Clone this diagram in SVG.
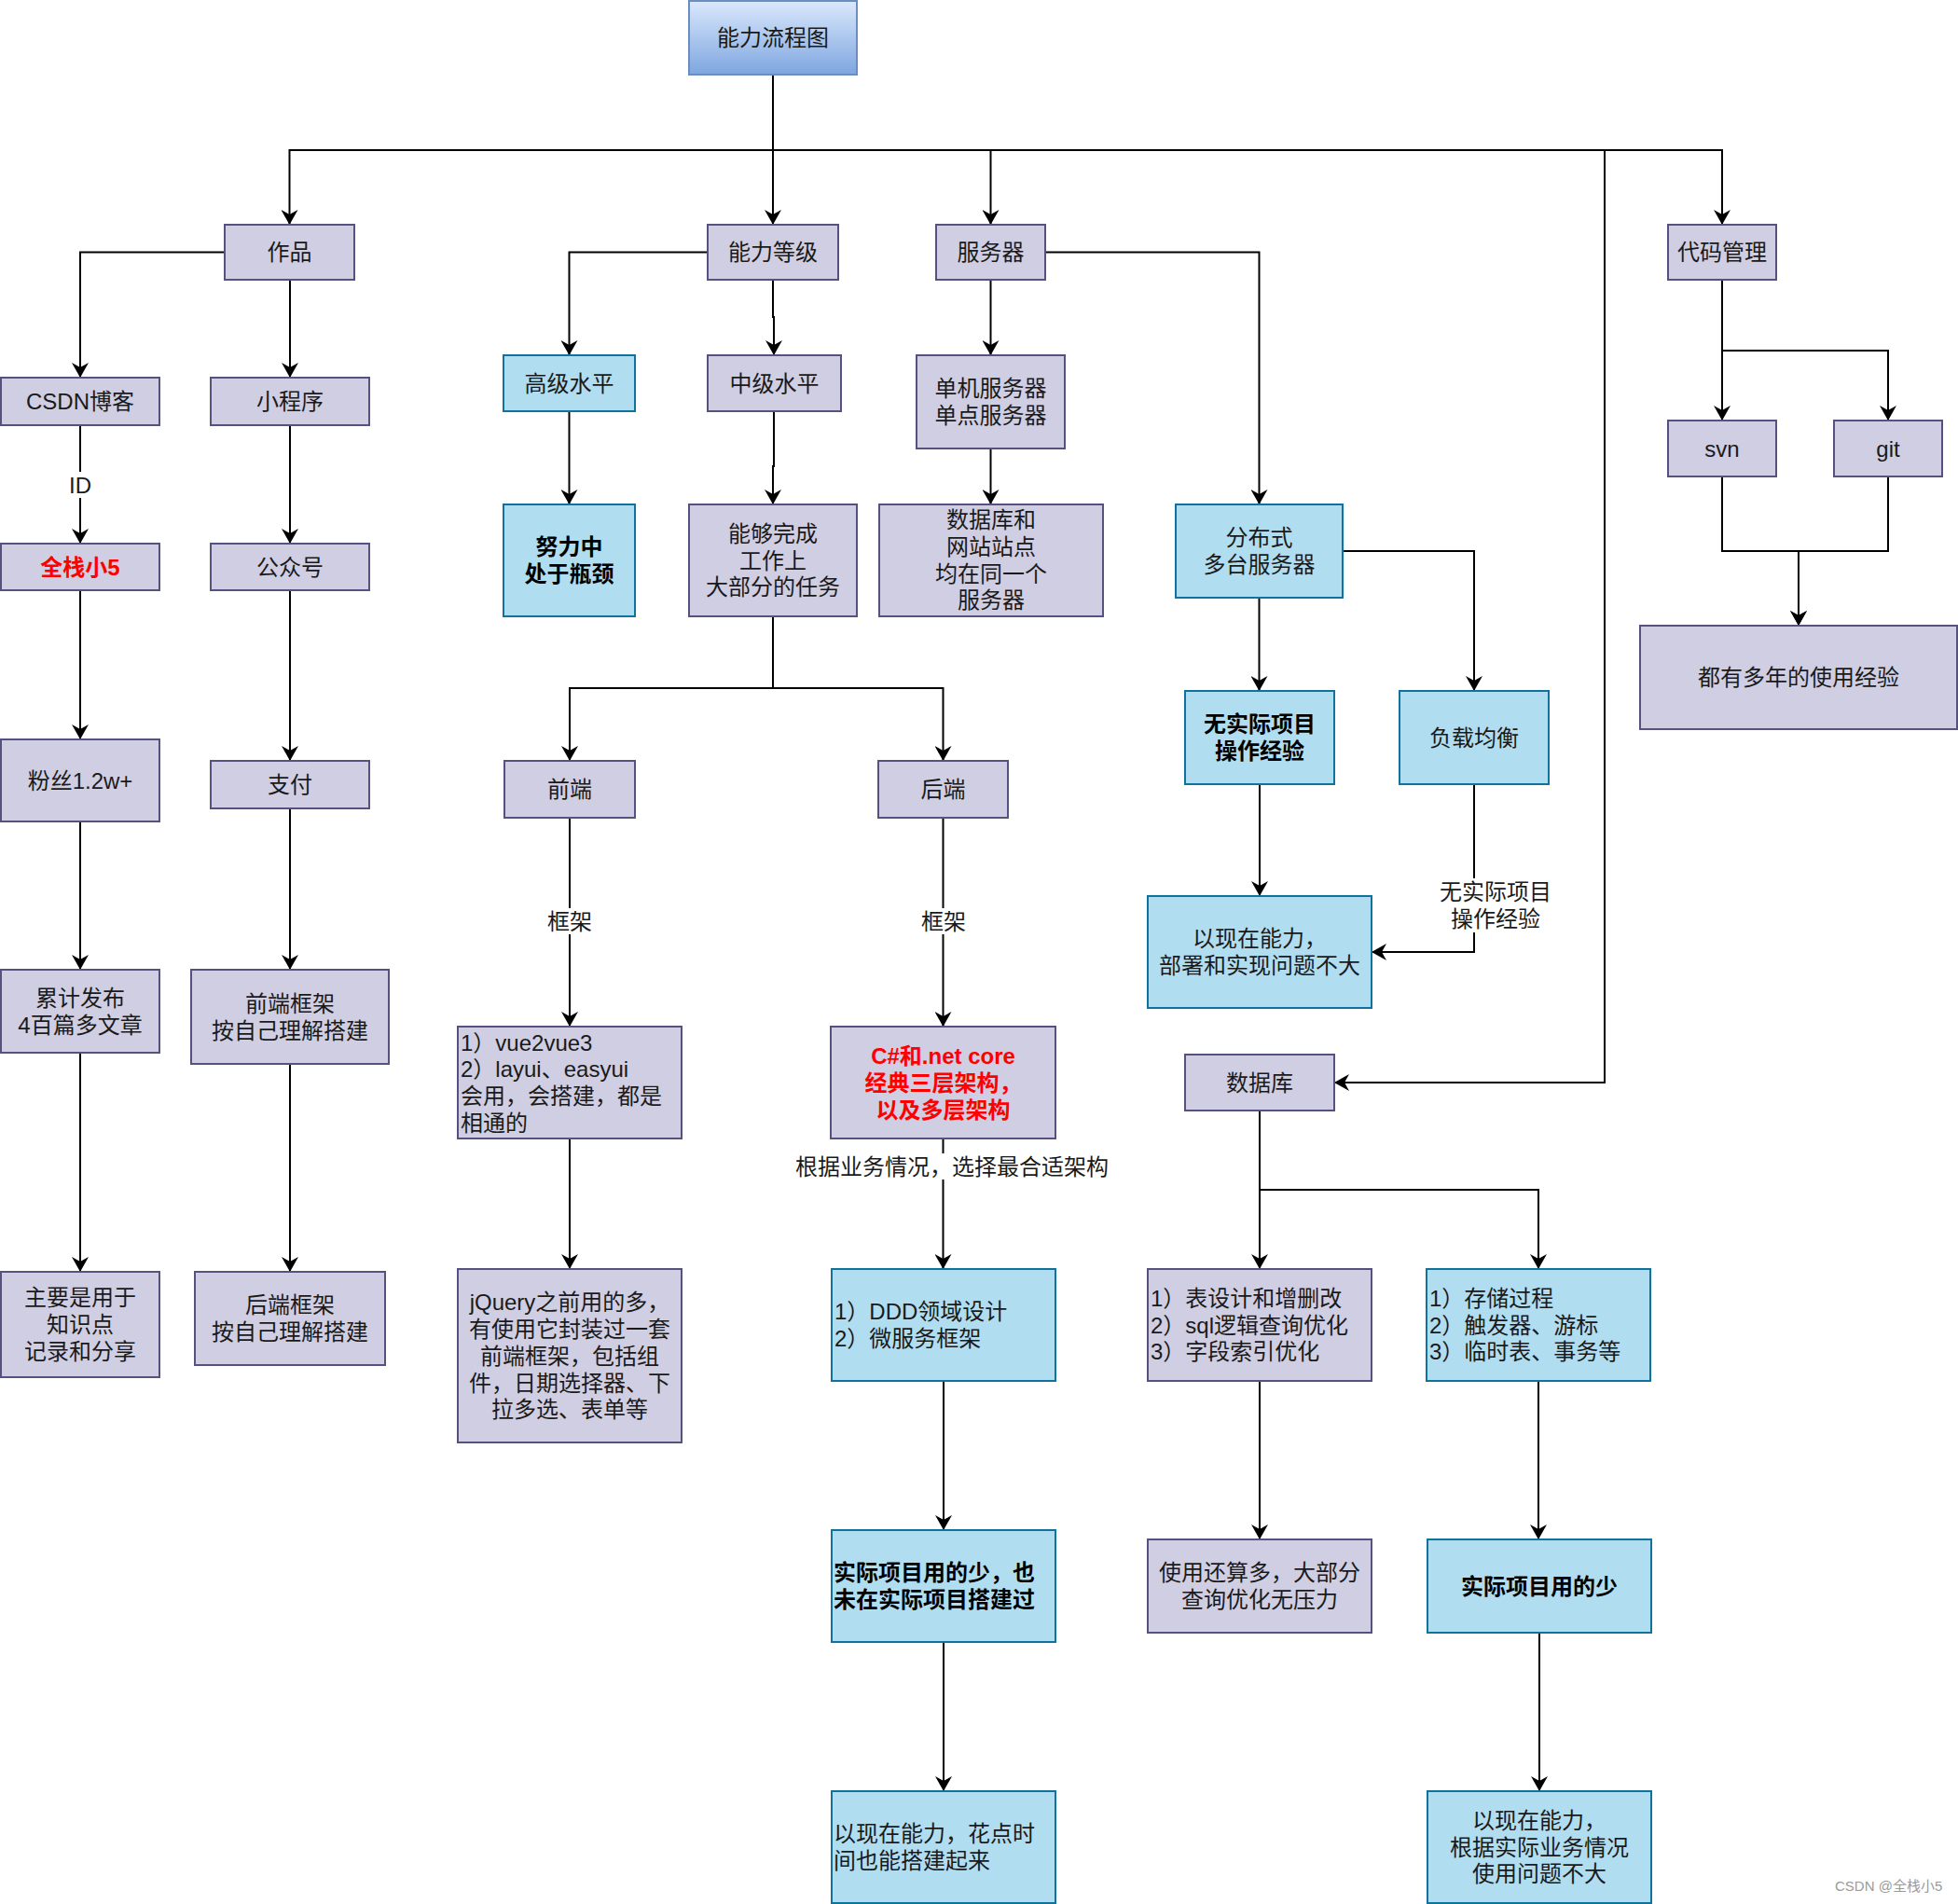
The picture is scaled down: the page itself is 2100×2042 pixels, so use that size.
<svg xmlns="http://www.w3.org/2000/svg" width="2100" height="2042" viewBox="0 0 2100 2042">
<defs>
<linearGradient id="rootg" x1="0" y1="0" x2="0" y2="1">
<stop offset="0" stop-color="#dae8fc"/>
<stop offset="1" stop-color="#7ea6e0"/>
</linearGradient>
<marker id="arr" viewBox="0 0 16 18" refX="16" refY="9" markerWidth="16" markerHeight="18" markerUnits="userSpaceOnUse" orient="auto">
<path d="M0,0 L16,9 L0,18 L5,9 Z" fill="#000"/>
</marker>
<style>
.p{fill:#d0cee2;stroke:#56517e;stroke-width:2}
.b{fill:#b1ddf0;stroke:#10739e;stroke-width:2}
.r{fill:url(#rootg);stroke:#6c8ebf;stroke-width:2}
text{font-family:"Liberation Sans","Noto Sans CJK SC",sans-serif;font-size:24px;fill:#1a1a1a}
.c{text-anchor:middle}
.bd{font-weight:bold;fill:#000}
.red{fill:#ff0000;font-weight:bold}
.e{fill:none;stroke:#000;stroke-width:2;marker-end:url(#arr)}
.lb{fill:#fff}
.wm{font-size:15px;fill:#9a9a9a}
</style>
</defs>
<rect width="2100" height="2042" fill="#fff"/>

<g id="connectors">
<path class="e" d="M829,80 V241"/>
<path class="e" d="M829,80 V161 H310.5 V241"/>
<path class="e" d="M829,80 V161 H1062.5 V241"/>
<path class="e" d="M829,80 V161 H1847 V241"/>
<path class="e" d="M829,80 V161 H1721 V1161 H1431"/>
<path class="e" d="M241,270.5 H86 V405"/>
<path class="e" d="M311,300 V405"/>
<path class="e" d="M86,456 V583"/>
<path class="e" d="M311,456 V583"/>
<path class="e" d="M86,633 V793"/>
<path class="e" d="M311,633 V816"/>
<path class="e" d="M86,881 V1040"/>
<path class="e" d="M311,867 V1040"/>
<path class="e" d="M86,1129 V1364"/>
<path class="e" d="M311,1141 V1364"/>
<path class="e" d="M759,270.5 H610.5 V381"/>
<path class="e" d="M829,300 V340 H830 V381"/>
<path class="e" d="M610.5,441 V541"/>
<path class="e" d="M830,441 V500 H829 V541"/>
<path class="e" d="M829,661 V738 H611 V816"/>
<path class="e" d="M829,661 V738 H1011.5 V816"/>
<path class="e" d="M611,877 V1101"/>
<path class="e" d="M1011.5,877 V1101"/>
<path class="e" d="M611,1221 V1361"/>
<path class="e" d="M1011.5,1221 V1361"/>
<path class="e" d="M1012,1481 V1641"/>
<path class="e" d="M1012,1761 V1921"/>
<path class="e" d="M1062.5,300 V381"/>
<path class="e" d="M1062.5,481 V541"/>
<path class="e" d="M1121,270.5 H1350.5 V541"/>
<path class="e" d="M1350.5,641 V741"/>
<path class="e" d="M1440,591 H1581 V741"/>
<path class="e" d="M1351,841 V961"/>
<path class="e" d="M1581,841 V1021 H1471"/>
<path class="e" d="M1351,1191 V1361"/>
<path class="e" d="M1351,1191 V1276 H1650 V1361"/>
<path class="e" d="M1351,1481 V1651"/>
<path class="e" d="M1650,1481 V1651"/>
<path class="e" d="M1651,1751 V1921"/>
<path class="e" d="M1847,300 V451"/>
<path class="e" d="M1847,300 V376 H2025 V451"/>
<path class="e" d="M1847,511 V591 H1929 V671"/>
<path class="e" d="M2025,511 V591 H1929 V671"/>
<g id="edge-labels">
<rect class="lb" x="73" y="506" width="26" height="28"/>
<text class="c" x="86" y="528.5">ID</text>
<rect class="lb" x="587" y="974" width="48" height="28"/>
<text class="c" x="611" y="996.5">框架</text>
<rect class="lb" x="988" y="974" width="48" height="28"/>
<text class="c" x="1012" y="996.5">框架</text>
<rect class="lb" x="853" y="1237" width="336" height="28"/>
<text class="c" x="1021" y="1259.5">根据业务情况，选择最合适架构</text>
<rect class="lb" x="1544" y="942" width="120" height="58"/>
<text class="c" x="1604" y="965">无实际项目</text>
<text class="c" x="1604" y="994">操作经验</text>
</g>
</g>

<g id="n-root"><rect class="r" x="739" y="1" width="180" height="79"/><text class="c" x="829" y="49">能力流程图</text></g>
<g id="n-zuopin"><rect class="p" x="241" y="241" width="139" height="59"/><text class="c" x="310.5" y="279">作品</text></g>
<g id="n-nengli"><rect class="p" x="759" y="241" width="140" height="59"/><text class="c" x="829" y="279">能力等级</text></g>
<g id="n-fuwuqi"><rect class="p" x="1004" y="241" width="117" height="59"/><text class="c" x="1062.5" y="279">服务器</text></g>
<g id="n-daima"><rect class="p" x="1789" y="241" width="116" height="59"/><text class="c" x="1847" y="279">代码管理</text></g>

<g id="n-csdn"><rect class="p" x="1" y="405" width="170" height="51"/><text class="c" x="86" y="439">CSDN博客</text></g>
<g id="n-xcx"><rect class="p" x="226" y="405" width="170" height="51"/><text class="c" x="311" y="439">小程序</text></g>
<g id="n-gaoji"><rect class="b" x="540" y="381" width="141" height="60"/><text class="c" x="610.5" y="419.5">高级水平</text></g>
<g id="n-zhongji"><rect class="p" x="759" y="381" width="143" height="60"/><text class="c" x="830.5" y="419.5">中级水平</text></g>
<g id="n-danji"><rect class="p" x="983" y="381" width="159" height="100"/><text class="c" x="1062.5" y="425">单机服务器</text><text class="c" x="1062.5" y="454">单点服务器</text></g>
<g id="n-svn"><rect class="p" x="1789" y="451" width="116" height="60"/><text class="c" x="1847" y="489.5">svn</text></g>
<g id="n-git"><rect class="p" x="1967" y="451" width="116" height="60"/><text class="c" x="2025" y="489.5">git</text></g>

<g id="n-qz"><rect class="p" x="1" y="583" width="170" height="50"/><text class="c red" x="86" y="616.5">全栈小5</text></g>
<g id="n-gzh"><rect class="p" x="226" y="583" width="170" height="50"/><text class="c" x="311" y="616.5">公众号</text></g>
<g id="n-nuli"><rect class="b" x="540" y="541" width="141" height="120"/><text class="c bd" x="610.5" y="595">努力中</text><text class="c bd" x="610.5" y="624">处于瓶颈</text></g>
<g id="n-nenggou"><rect class="p" x="739" y="541" width="180" height="120"/><text class="c" x="829" y="580.5">能够完成</text><text class="c" x="829" y="609.5">工作上</text><text class="c" x="829" y="638">大部分的任务</text></g>
<g id="n-sjk-wz"><rect class="p" x="943" y="541" width="240" height="120"/><text class="c" x="1063" y="566">数据库和</text><text class="c" x="1063" y="595">网站站点</text><text class="c" x="1063" y="623.5">均在同一个</text><text class="c" x="1063" y="652">服务器</text></g>
<g id="n-fenbu"><rect class="b" x="1261" y="541" width="179" height="100"/><text class="c" x="1350.5" y="585">分布式</text><text class="c" x="1350.5" y="614">多台服务器</text></g>
<g id="n-duoyou"><rect class="p" x="1759" y="671" width="340" height="111"/><text class="c" x="1929" y="735">都有多年的使用经验</text></g>

<g id="n-wushiji"><rect class="b" x="1271" y="741" width="160" height="100"/><text class="c bd" x="1351" y="785">无实际项目</text><text class="c bd" x="1351" y="814">操作经验</text></g>
<g id="n-fuzai"><rect class="b" x="1501" y="741" width="160" height="100"/><text class="c" x="1581" y="799.5">负载均衡</text></g>
<g id="n-fensi"><rect class="p" x="1" y="793" width="170" height="88"/><text class="c" x="86" y="845.5">粉丝1.2w+</text></g>
<g id="n-zhifu"><rect class="p" x="226" y="816" width="170" height="51"/><text class="c" x="311" y="850">支付</text></g>
<g id="n-qianduan"><rect class="p" x="541" y="816" width="140" height="61"/><text class="c" x="611" y="855">前端</text></g>
<g id="n-houduan"><rect class="p" x="942" y="816" width="139" height="61"/><text class="c" x="1011.5" y="855">后端</text></g>
<g id="n-bushu"><rect class="b" x="1231" y="961" width="240" height="120"/><text class="c" x="1351" y="1015">以现在能力，</text><text class="c" x="1351" y="1044">部署和实现问题不大</text></g>

<g id="n-leiji"><rect class="p" x="1" y="1040" width="170" height="89"/><text class="c" x="86" y="1078.5">累计发布</text><text class="c" x="86" y="1107.5">4百篇多文章</text></g>
<g id="n-qdkj"><rect class="p" x="205" y="1040" width="212" height="101"/><text class="c" x="311" y="1084.5">前端框架</text><text class="c" x="311" y="1113.5">按自己理解搭建</text></g>
<g id="n-vue"><rect class="p" x="491" y="1101" width="240" height="120"/><text x="494" y="1126.5">1）vue2vue3</text><text x="494" y="1155">2）layui、easyui</text><text x="494" y="1184">会用，会搭建，都是</text><text x="494" y="1212.5">相通的</text></g>
<g id="n-csharp"><rect class="p" x="891" y="1101" width="241" height="120"/><text class="c red" x="1011.5" y="1141">C#和.net core</text><text class="c red" x="1011.5" y="1169.5">经典三层架构，</text><text class="c red" x="1011.5" y="1198.5">以及多层架构</text></g>
<g id="n-shujuku"><rect class="p" x="1271" y="1131" width="160" height="60"/><text class="c" x="1351" y="1169.5">数据库</text></g>

<g id="n-zhuyao"><rect class="p" x="1" y="1364" width="170" height="113"/><text class="c" x="86" y="1400">主要是用于</text><text class="c" x="86" y="1429">知识点</text><text class="c" x="86" y="1457.5">记录和分享</text></g>
<g id="n-hdkj"><rect class="p" x="209" y="1364" width="204" height="100"/><text class="c" x="311" y="1408">后端框架</text><text class="c" x="311" y="1437">按自己理解搭建</text></g>
<g id="n-jquery"><rect class="p" x="491" y="1361" width="240" height="186"/><text class="c" x="611" y="1405">jQuery之前用的多，</text><text class="c" x="611" y="1434">有使用它封装过一套</text><text class="c" x="611" y="1462.5">前端框架，包括组</text><text class="c" x="611" y="1491.5">件，日期选择器、下</text><text class="c" x="611" y="1520">拉多选、表单等</text></g>
<g id="n-ddd"><rect class="b" x="892" y="1361" width="240" height="120"/><text x="895" y="1415">1）DDD领域设计</text><text x="895" y="1444">2）微服务框架</text></g>
<g id="n-biao"><rect class="p" x="1231" y="1361" width="240" height="120"/><text x="1234" y="1400.5">1）表设计和增删改</text><text x="1234" y="1429.5">2）sql逻辑查询优化</text><text x="1234" y="1458">3）字段索引优化</text></g>
<g id="n-cunchu"><rect class="b" x="1530" y="1361" width="240" height="120"/><text x="1533" y="1400.5">1）存储过程</text><text x="1533" y="1429.5">2）触发器、游标</text><text x="1533" y="1458">3）临时表、事务等</text></g>

<g id="n-shaoye"><rect class="b" x="892" y="1641" width="240" height="120"/><text class="bd" x="894" y="1695">实际项目用的少，也</text><text class="bd" x="894" y="1724">未在实际项目搭建过</text></g>
<g id="n-shiyong"><rect class="p" x="1231" y="1651" width="240" height="100"/><text class="c" x="1351" y="1695">使用还算多，大部分</text><text class="c" x="1351" y="1724">查询优化无压力</text></g>
<g id="n-shao"><rect class="b" x="1531" y="1651" width="240" height="100"/><text class="c bd" x="1651" y="1709.5">实际项目用的少</text></g>

<g id="n-huadian"><rect class="b" x="892" y="1921" width="240" height="120"/><text x="894" y="1975">以现在能力，花点时</text><text x="894" y="2004">间也能搭建起来</text></g>
<g id="n-genju"><rect class="b" x="1531" y="1921" width="240" height="120"/><text class="c" x="1651" y="1960.5">以现在能力，</text><text class="c" x="1651" y="1989.5">根据实际业务情况</text><text class="c" x="1651" y="2018">使用问题不大</text></g>

<text class="wm" x="1968" y="2028">CSDN @全栈小5</text>
</svg>
